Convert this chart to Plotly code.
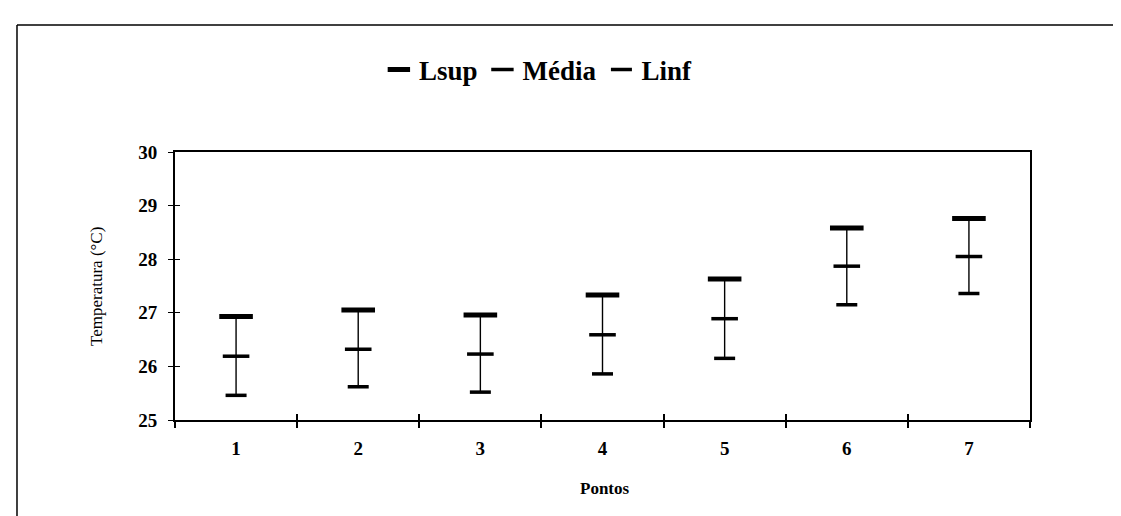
import plotly.graph_objects as go

pontos = ["1", "2", "3", "4", "5", "6", "7"]
lsup = [26.93, 27.05, 26.96, 27.33, 27.63, 28.58, 28.76]
media = [26.19, 26.32, 26.23, 26.59, 26.89, 27.87, 28.05]
linf = [25.46, 25.62, 25.52, 25.86, 26.15, 27.15, 27.36]

y_ticks = [25, 26, 27, 28, 29, 30]

FONT = "Liberation Serif"

# vertical high-low connectors built from the data arrays
vx, vy = [], []
for p, lo, hi in zip(pontos, linf, lsup):
    vx += [p, p, None]
    vy += [lo, hi, None]

fig = go.Figure()
# invisible trace that carries the overlay axes (inner half of crossing ticks)
fig.add_trace(go.Scatter(x=pontos, y=media, xaxis="x2", yaxis="y2", mode="markers",
                         marker=dict(opacity=0), showlegend=False, hoverinfo="skip"))
fig.add_trace(go.Scatter(x=vx, y=vy, mode="lines", line=dict(color="black", width=1.4),
                         showlegend=False, hoverinfo="skip"))
fig.add_trace(go.Scatter(x=pontos, y=lsup, mode="markers", name="Lsup",
                         marker=dict(symbol="line-ew", size=24, line=dict(color="black", width=5))))
fig.add_trace(go.Scatter(x=pontos, y=media, mode="markers", name="Média",
                         marker=dict(symbol="line-ew", size=19, line=dict(color="black", width=3.5))))
fig.add_trace(go.Scatter(x=pontos, y=linf, mode="markers", name="Linf",
                         marker=dict(symbol="line-ew", size=15, line=dict(color="black", width=3.5))))

tickfont = dict(family=FONT, size=19, color="black", weight="bold")

fig.update_layout(
    width=1121, height=516,
    margin=dict(l=167, r=99, t=144, b=104),
    paper_bgcolor="white", plot_bgcolor="white",
    font=dict(family=FONT, color="black"),
    showlegend=True,
    legend=dict(orientation="h", x=0.425, xanchor="center", y=1.306, yanchor="middle",
                font=dict(family=FONT, size=27, color="black", weight="bold"),
                itemwidth=30, tracegroupgap=0),
    xaxis=dict(type="category", range=[-0.5, 6.5], tickson="boundaries",
               ticks="outside", ticklen=6, tickwidth=1.5, tickcolor="black",
               ticklabelstandoff=10,
               showline=True, linecolor="black", linewidth=1.8, mirror=True,
               showgrid=False, zeroline=False, tickfont=tickfont),
    yaxis=dict(range=[25, 30], tickvals=y_ticks, ticks="outside", ticklen=5,
               tickwidth=1.2, tickcolor="black", ticklabelstandoff=7,
               showline=True, linecolor="black", linewidth=1.8, mirror=True,
               showgrid=False, zeroline=False, tickfont=tickfont),
    xaxis2=dict(type="category", categoryarray=pontos, range=[-0.5, 6.5], tickson="boundaries",
                overlaying="x", anchor="y2", side="bottom", layer="above traces",
                ticks="inside", ticklen=6, tickwidth=1.5, tickcolor="black",
                showticklabels=False, showline=False, showgrid=False, zeroline=False),
    yaxis2=dict(range=[25, 30], tickvals=y_ticks, overlaying="y", anchor="x2", side="left",
                layer="above traces",
                ticks="inside", ticklen=5, tickwidth=1.2, tickcolor="black",
                showticklabels=False, showline=False, showgrid=False, zeroline=False),
    annotations=[
        dict(text="Temperatura (°C)", xref="paper", yref="paper", x=-0.0924, y=0.5,
             textangle=-90, showarrow=False, xanchor="center", yanchor="middle",
             font=dict(family=FONT, size=17, color="black")),
        dict(text="Pontos", xref="paper", yref="paper", x=0.5035, y=-0.254,
             showarrow=False, xanchor="center", yanchor="middle",
             font=dict(family=FONT, size=17, color="black", weight="bold")),
    ],
    shapes=[
        dict(type="line", xref="paper", yref="paper", x0=-0.1848, x1=1.2, y0=1.474, y1=1.474,
             line=dict(color="black", width=1.5)),
        dict(type="line", xref="paper", yref="paper", x0=-0.1848, x1=-0.1848, y0=1.474, y1=-0.5,
             line=dict(color="black", width=1.5)),
    ],
)

fig.write_html("out.html")
